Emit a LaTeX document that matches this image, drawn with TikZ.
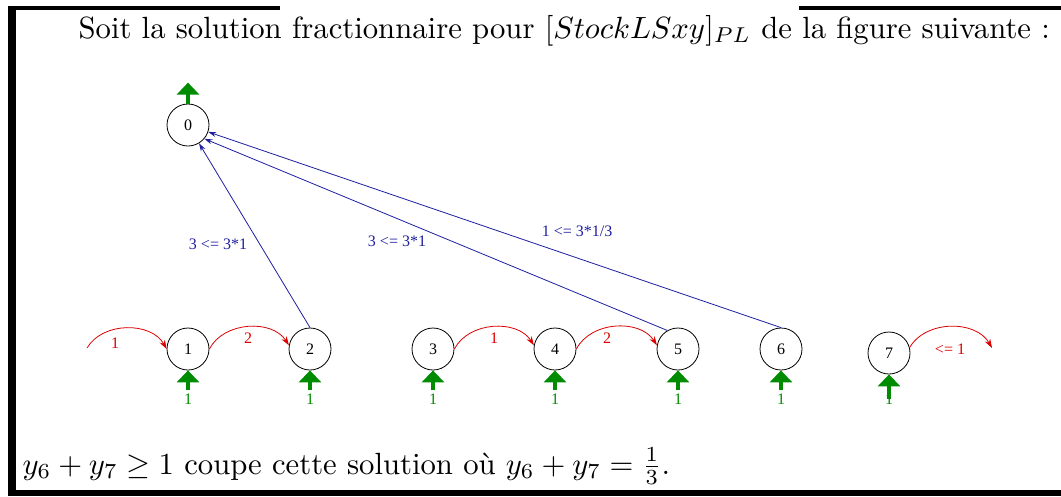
\documentclass[tikz,border=0pt]{standalone}
\usepackage{fontspec}
\newfontfamily\graphfont{Liberation Serif}
\usetikzlibrary{arrows.meta}
\definecolor{flowred}{RGB}{220,0,0}
\definecolor{supplygreen}{RGB}{0,140,0}
\definecolor{linkblue}{RGB}{30,30,160}
\tikzset{
  state/.style={circle, draw, line width=0.8pt, minimum size=42pt, inner sep=0pt,
    font=\graphfont\fontsize{16}{19}\selectfont},
  supply/.style={supplygreen, line width=4pt, -{Triangle[width=22pt,length=12pt]}},
  flow/.style={flowred, line width=0.8pt, -{Stealth[length=9pt,width=6pt]}},
  link/.style={linkblue, line width=0.8pt, -{Stealth[length=8pt,width=5pt]}},
  lbl/.style={font=\graphfont\fontsize{16}{19}\selectfont, inner sep=0pt},
  slide/.style={anchor=base west, inner sep=0pt, scale=3.07, transform shape,
    font=\fontsize{10}{12}\selectfont},
}
\begin{document}
\begin{tikzpicture}[x=1pt,y=1pt]
    \useasboundingbox (0,0) rectangle (1061,-496);

    % Frame
    \draw[line width=4pt] (8,-8) -- (280,-8);
    \draw[line width=4pt] (799,-8) -- (1061,-8);
    \draw[line width=8pt] (12,-6) -- (12,-493);
    \draw[line width=6pt] (8,-493) -- (1061,-493);

    % Text
    \node[slide] (intro) at (78,-38)
      {Soit la solution fractionnaire pour $[StockLSxy]_{PL}$ de la figure suivante :};
    \node[slide] (cut) at (22,-474)
      {$y_6+y_7\geq 1$ coupe cette solution où $y_6+y_7=\frac{1}{3}$.};

    % Nodes
    \node[state] (n0) at (188,-125) {0};
    \foreach \i/\x in {1/188,2/310,3/433,4/555,5/678,6/781}
      \node[state] (n\i) at (\x,-349) {\i};
    \node[state] (n7) at (889,-353) {7};

    % Supply arrows
    \coordinate (top0) at ([yshift=21pt]n0.north);
    \draw[supply] (n0.north) -- (top0);
    \foreach \i/\d in {1/20,2/20,3/20,4/20,5/20,6/20,7/25} {
      \coordinate (s\i) at ([yshift=-\d pt]n\i.south);
      \draw[supply] (s\i) -- (n\i.south);
      \node[lbl, supplygreen] (q\i) at (n\i.south |- 0,-399) {1};
    }

    % Flow arcs
    \coordinate (src) at (87,-348);
    \coordinate (sink) at (992,-348);
    \draw[flow] (src) to[bend left=60] (n1.west);
    \draw[flow] (n1.east) to[bend left=60] (n2.170);
    \draw[flow] (n3.east) to[bend left=60] (n4.170);
    \draw[flow] (n4.east) to[bend left=60] (n5.170);
    \draw[flow] (n7.15) to[bend left=60] (sink);
    \node[lbl, flowred] (f1) at (115,-343) {1};
    \node[lbl, flowred] (f2) at (248,-338) {2};
    \node[lbl, flowred] (f3) at (494,-338) {1};
    \node[lbl, flowred] (f4) at (607,-338) {2};
    \node[lbl, flowred] (f5) at (950,-349) {<= 1};

    % Links to 0
    \draw[link] (n2.north) -- (n0);
    \draw[link] (n5.120) -- (n0.-40);
    \draw[link] (n6.north) -- (n0);
    \node[lbl, linkblue] (c1) at (218,-244) {3 <= 3*1};
    \node[lbl, linkblue] (c2) at (397,-241) {3 <= 3*1};
    \node[lbl, linkblue] (c3) at (577,-231) {1 <= 3*1/3};
\end{tikzpicture}
\end{document}
